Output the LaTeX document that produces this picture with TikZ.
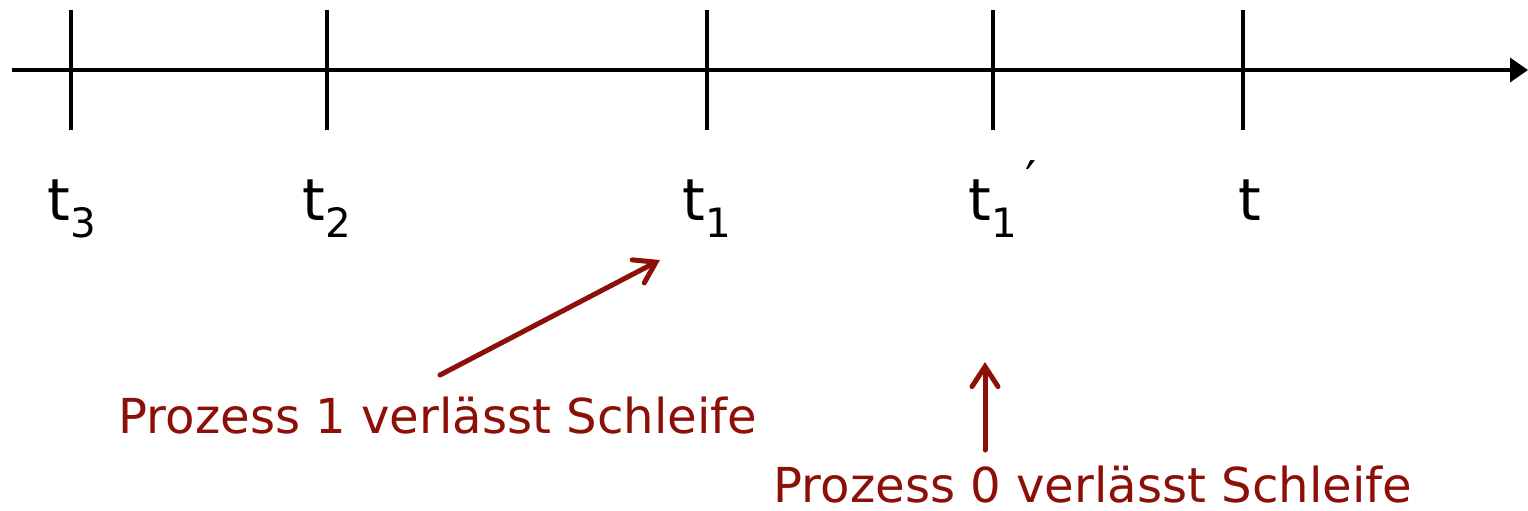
\documentclass[tikz,border=0pt]{standalone}
\usepackage{fontspec}
\setmainfont{DejaVu Sans}
\usetikzlibrary{arrows.meta}

\definecolor{loopred}{RGB}{140,16,8}
\newcommand{\tsub}[1]{\raisebox{-0.3em}{\fontsize{11.5}{12}\selectfont #1}}

\begin{document}
\begin{tikzpicture}[
    axisline/.style={line width=0.035cm, black},
    tickmark/.style={line width=0.035cm, black},
    timelabel/.style={anchor=base west, inner sep=0pt, font=\fontsize{16.5}{18}\selectfont},
    eventlabel/.style={anchor=base west, inner sep=0pt, text=loopred, font=\fontsize{13.7}{16}\selectfont},
    eventarrow/.style={line width=0.05cm, loopred, line cap=round,
        -{Straight Barb[length=2mm, width=2.6mm, line cap=round]}}
]
    \useasboundingbox ({0}, {0}) rectangle ({15.28}, {-5.10});

    % Time axis
    \coordinate (axstart) at ({0.12}, {-0.70});
    \coordinate (axend) at ({15.28}, {-0.70});
    \draw[axisline, -{Triangle[length=1.8mm, width=2.4mm]}] (axstart) -- (axend);

    % Ticks
    \foreach \name/\x in {tthree/0.71, ttwo/3.27, tone/7.07, tonep/9.93, tnow/12.43} {
        \coordinate (\name top) at ({\x}, {-0.10});
        \coordinate (\name bot) at ({\x}, {-1.30});
        \draw[tickmark] (\name top) -- (\name bot);
    }

    % Tick labels
    \node[timelabel] (lthree) at ({0.47}, {-2.20}) {t\tsub{3}};
    \node[timelabel] (ltwo) at ({3.02}, {-2.20}) {t\tsub{2}};
    \node[timelabel] (lone) at ({6.82}, {-2.20}) {t\tsub{1}};
    \node[timelabel] (lonep) at ({9.68}, {-2.20}) {t\tsub{1}\raisebox{0.4em}{\fontsize{14}{14}\selectfont\,′}};
    \node[timelabel] (lnow) at ({12.38}, {-2.20}) {t};

    % Events
    \node[eventlabel] (pone) at ({1.18}, {-4.33}) {Prozess 1 verlässt Schleife};
    \node[eventlabel] (pzero) at ({7.73}, {-5.02}) {Prozess 0 verlässt Schleife};

    \coordinate (aonestart) at ({4.40}, {-3.75});
    \coordinate (aoneend) at ({6.60}, {-2.60});
    \coordinate (azerostart) at ({9.85}, {-4.50});
    \coordinate (azeroend) at ({9.85}, {-3.62});
    \draw[eventarrow] (aonestart) -- (aoneend);
    \draw[eventarrow] (azerostart) -- (azeroend);
\end{tikzpicture}
\end{document}
